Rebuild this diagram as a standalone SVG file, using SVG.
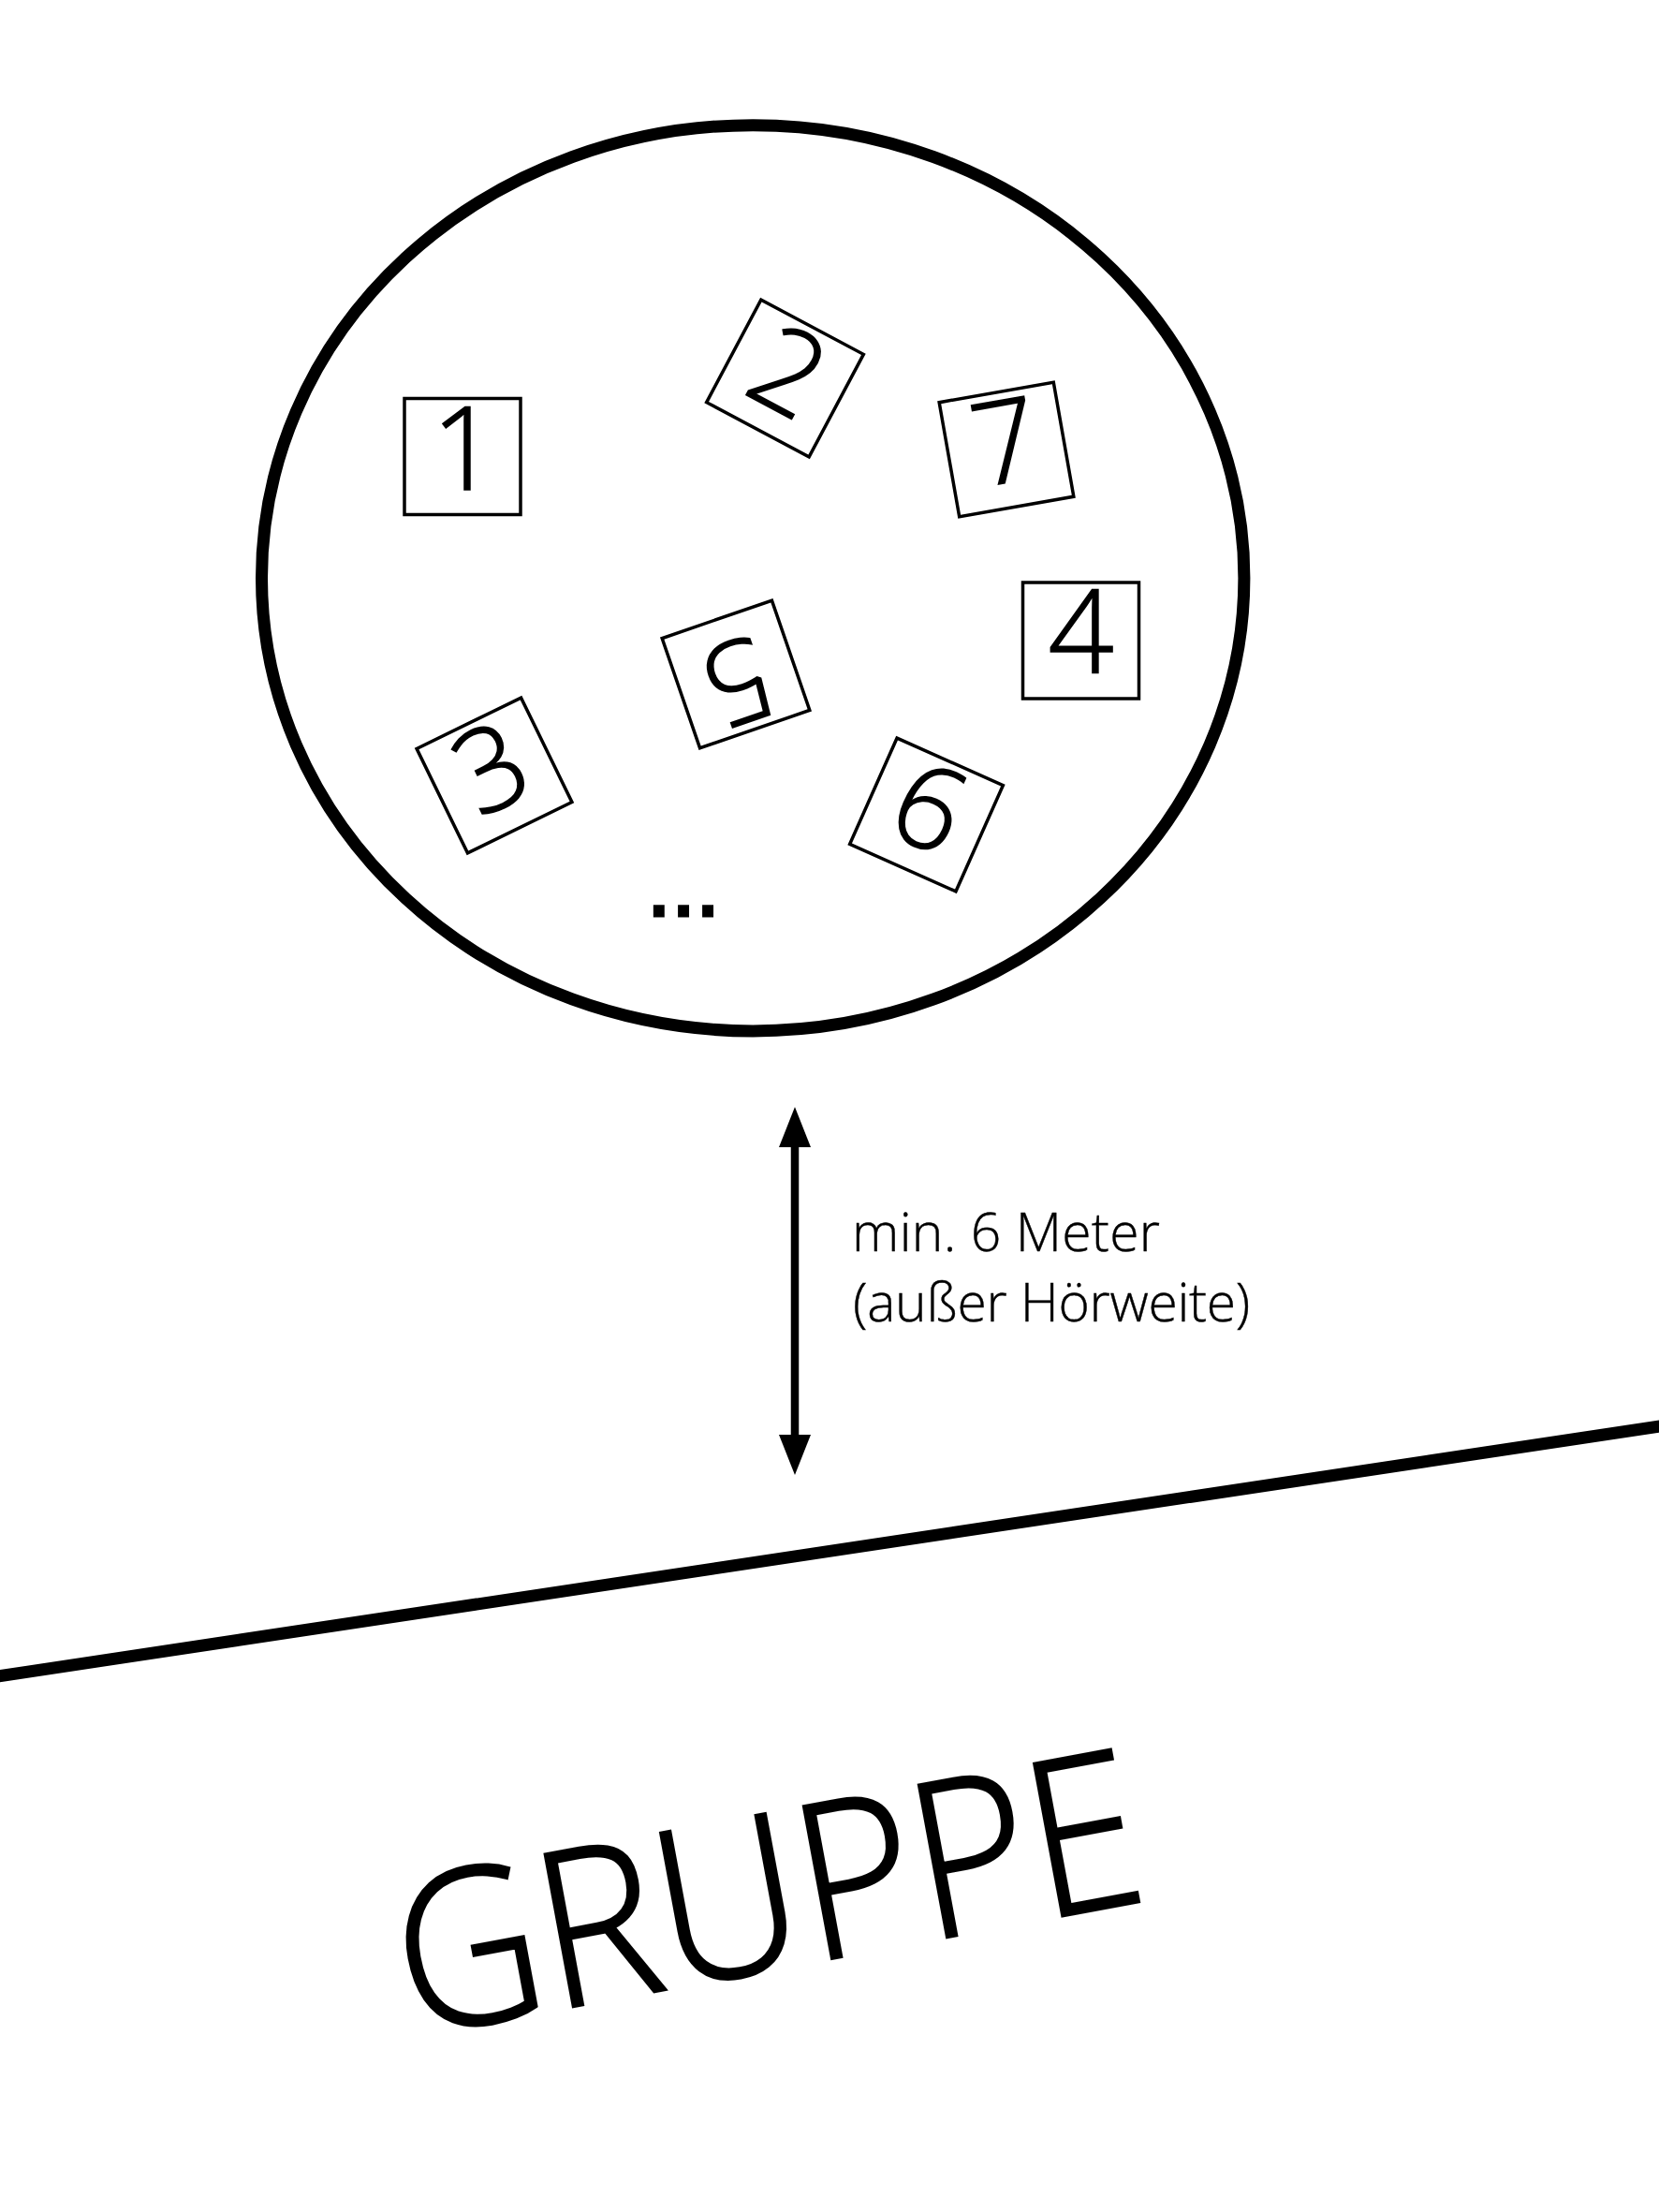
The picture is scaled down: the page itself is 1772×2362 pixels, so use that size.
<svg xmlns="http://www.w3.org/2000/svg" width="1772" height="2362" viewBox="0 0 1772 2362">
<style>
.t{font-family:"Open Sans","Noto Sans","Liberation Sans",sans-serif;font-weight:300;fill:#000}
.box{fill:none;stroke:#000;stroke-width:3.5}
.d{font-size:123px;text-anchor:middle;stroke:#000;stroke-width:1.6}
.l{font-size:57px;stroke:#000;stroke-width:.4}
</style>
<defs>
<marker id="a" markerUnits="userSpaceOnUse" markerWidth="43" markerHeight="34" refX="5" refY="17" orient="auto-start-reverse" viewBox="0 0 43 34"><path d="M0 0L43 17L0 34Z" fill="#000"/></marker>
</defs>
<rect width="1772" height="2362" fill="#fff"/>
<g id="circle"><ellipse cx="804.2" cy="617.3" rx="524.7" ry="483.6" fill="none" stroke="#000" stroke-width="13"/></g>
<g id="n1" transform="translate(494 487.5)"><rect class="box" x="-62" y="-62" width="124" height="124"/><text class="t d" x="2" y="35">1</text></g>
<g id="n2" transform="translate(838.5 404) rotate(28)"><rect class="box" x="-62" y="-62" width="124" height="124"/><text class="t d" y="35">2</text></g>
<g id="n3" transform="translate(528 828) rotate(-26)"><rect class="box" x="-62" y="-62" width="124" height="124"/><text class="t d" y="35">3</text></g>
<g id="n4" transform="translate(1154.5 684)"><rect class="box" x="-62" y="-62" width="124" height="124"/><text class="t d" y="35">4</text></g>
<g id="n5" transform="translate(786 720) rotate(161)"><rect class="box" x="-62" y="-62" width="124" height="124"/><text class="t d" y="35">5</text></g>
<g id="n6" transform="translate(989.5 870) rotate(24)"><rect class="box" x="-62" y="-62" width="124" height="124"/><text class="t d" y="35">6</text></g>
<g id="n7" transform="translate(1075 480) rotate(-10)"><rect class="box" x="-62" y="-62" width="124" height="124"/><text class="t d" y="35">7</text></g>
<text id="more" x="730" y="977.5" font-family="Liberation Sans, sans-serif" font-size="94" text-anchor="middle" fill="#000" stroke="#000" stroke-width="3">...</text>
<g id="connectors"><line x1="849" y1="1220" x2="849" y2="1537" stroke="#000" stroke-width="8.5" marker-start="url(#a)" marker-end="url(#a)"/></g>
<g id="label"><text class="t l" x="910" y="1336" letter-spacing=".3">min. 6 Meter</text><text class="t l" x="911" y="1411" letter-spacing="-.3">(außer Hörweite)</text></g>
<line id="divider" x1="-5" y1="1790.4" x2="1777" y2="1522.3" stroke="#000" stroke-width="13"/>
<text id="gruppe" class="t" transform="translate(439 2175) rotate(-10.5) scale(.922 1)" font-size="232" stroke="#000" stroke-width="3">GRUPPE</text>
</svg>
